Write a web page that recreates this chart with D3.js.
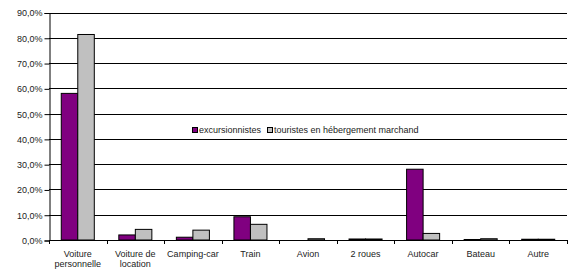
<!DOCTYPE html>
<html>
<head>
<meta charset="utf-8">
<script src="https://cdn.jsdelivr.net/npm/d3@7"></script>
<style>
    body { margin: 0; background: #fff; }
    text { font-family: "Liberation Sans", Arial, sans-serif; font-size: 9px; fill: #222; }
</style>
</head>
<body>
<div id="chart"></div>
<script>

// modes de transport
var categories = [["Voiture", "personnelle"], ["Voiture de", "location"], ["Camping-car"], ["Train"],
    ["Avion"], ["2 roues"], ["Autocar"], ["Bateau"], ["Autre"]];
var seriesNames = ["excursionnistes", "touristes en hébergement marchand"];
var excursionnistes = [58.0, 2.0, 1.1, 9.2, 0.0, 0.4, 28.0, 0.2, 0.3];
var touristes = [81.3, 4.2, 3.9, 6.2, 0.5, 0.4, 2.6, 0.5, 0.3];
var yTicks = [0, 10, 20, 30, 40, 50, 60, 70, 80, 90];
var colors = ["#800080", "#c0c0c0"];

var width = 573, height = 269;
var margin = { top: 12.5, right: 6, bottom: 29, left: 49 };

var svg = d3.select("#chart").append("svg")
    .attr("width", width)
    .attr("height", height);

var fr = d3.formatLocale({ decimal: ",", thousands: " ", grouping: [3], currency: ["", " €"] });
var fmt = function (d) { return fr.format(".1f")(d) + "%"; };

var x = d3.scaleBand()
    .domain(d3.range(categories.length))
    .range([margin.left, width - margin.right])
    .padding(0);

var y = d3.scaleLinear()
    .domain([0, 90])
    .range([height - margin.bottom, margin.top]);

var barW = x.bandwidth() * 0.287;

// grid lines
svg.append("g")
    .selectAll("line")
    .data(yTicks.slice(1))
    .enter().append("line")
    .attr("x1", margin.left)
    .attr("x2", width - margin.right)
    .attr("y1", function (d) { return Math.round(y(d)) + 0.5; })
    .attr("y2", function (d) { return Math.round(y(d)) + 0.5; })
    .attr("stroke", "#000")
    .attr("stroke-width", 1);

// bars
var data = categories.map(function (c, i) { return [excursionnistes[i], touristes[i]]; });

var groups = svg.append("g")
    .selectAll("g")
    .data(data)
    .enter().append("g")
    .attr("transform", function (d, i) { return "translate(" + (x(i) + x.bandwidth() / 2 - barW) + ",0)"; });

groups.selectAll("rect")
    .data(function (d) { return d; })
    .enter().append("rect")
    .attr("x", function (d, j) { return j * barW; })
    .attr("y", function (d) { return y(d); })
    .attr("width", barW)
    .attr("height", function (d) { return y(0) - y(d); })
    .attr("fill", function (d, j) { return colors[j]; })
    .attr("stroke", "#000")
    .attr("stroke-width", 1);

// y axis
var yAxis = d3.axisLeft(y)
    .tickValues(yTicks)
    .tickFormat(fmt)
    .tickSize(5)
    .tickPadding(2);

var gy = svg.append("g")
    .attr("transform", "translate(" + (margin.left + 0.5) + ",0.5)")
    .call(yAxis);
gy.select(".domain").attr("stroke", "#000");
gy.selectAll(".tick line").attr("stroke", "#000");
gy.selectAll("text").style("font-size", "9px").attr("fill", "#222");

// x axis: ticks on category boundaries
var xAxisLine = svg.append("g");
xAxisLine.append("line")
    .attr("x1", margin.left)
    .attr("x2", width - margin.right)
    .attr("y1", Math.round(y(0)) + 0.5)
    .attr("y2", Math.round(y(0)) + 0.5)
    .attr("stroke", "#000");
xAxisLine.selectAll("line.tk")
    .data(d3.range(categories.length + 1))
    .enter().append("line")
    .attr("class", "tk")
    .attr("x1", function (i) { return Math.round(margin.left + i * x.bandwidth()) + 0.5; })
    .attr("x2", function (i) { return Math.round(margin.left + i * x.bandwidth()) + 0.5; })
    .attr("y1", Math.round(y(0)))
    .attr("y2", Math.round(y(0)) + 4)
    .attr("stroke", "#000");

// category labels
var labels = svg.append("g")
    .selectAll("text")
    .data(categories)
    .enter().append("text")
    .attr("text-anchor", "middle")
    .attr("transform", function (d, i) { return "translate(" + (x(i) + x.bandwidth() / 2) + "," + (y(0) + 17) + ")"; });

labels.selectAll("tspan")
    .data(function (d) { return d; })
    .enter().append("tspan")
    .attr("x", 0)
    .attr("dy", function (d, k) { return k === 0 ? 0 : 10; })
    .text(function (d) { return d; });

// legend
var legend = svg.append("g").attr("transform", "translate(192,127)");
legend.append("rect").attr("x", 0.5).attr("y", 0.5).attr("width", 5).attr("height", 5)
    .attr("fill", colors[0]).attr("stroke", "#000");
legend.append("text").attr("x", 7).attr("y", 6).text(seriesNames[0]);
legend.append("rect").attr("x", 75.5).attr("y", 0.5).attr("width", 5).attr("height", 5)
    .attr("fill", colors[1]).attr("stroke", "#000");
legend.append("text").attr("x", 82).attr("y", 6).text(seriesNames[1]);

</script>
</body>
</html>
